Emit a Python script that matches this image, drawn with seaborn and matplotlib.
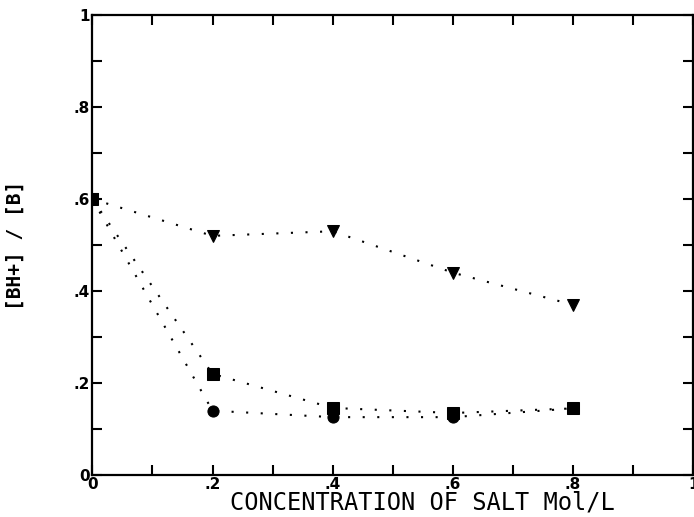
import matplotlib
matplotlib.use("Agg")
import matplotlib.pyplot as plt
import seaborn as sns
import pandas as pd
from matplotlib.ticker import MultipleLocator, FixedLocator

# salt concentration (mol/L)
conc = [0.0, 0.2, 0.4, 0.6, 0.8]

# [BH+]/[B] for the three salts
ratio_triangle = [0.60, 0.52, 0.53, 0.44, 0.37]
ratio_square = [0.60, 0.22, 0.146, 0.135, 0.145]
ratio_circle = [0.60, 0.14, 0.126, 0.126, 0.145]

tick_vals = [0, 0.2, 0.4, 0.6, 0.8, 1]
tick_text = ["0", ".2", ".4", ".6", ".8", "1"]

sns.set_style("ticks", {"axes.edgecolor": "black", "xtick.color": "black",
                        "ytick.color": "black", "text.color": "black",
                        "axes.labelcolor": "black"})
plt.rcParams["font.family"] = ["DejaVu Sans"]

fig = plt.figure(figsize=(6.94, 5.17), dpi=100)
ax = fig.add_axes([0.133, 0.081, 0.866, 0.89])

# circles first, triangles last so the triangle sits on top at x=0
series = [
    ("circ", ratio_circle, "o"),
    ("sq", ratio_square, "s"),
    ("tri", ratio_triangle, "v"),
]
for name, vals, mk in series:
    df = pd.DataFrame({"x": conc, "y": vals})
    sns.lineplot(data=df, x="x", y="y", ax=ax, color="black",
                 marker=mk, markersize=8, markeredgecolor="black",
                 linestyle=(0, (1, 6)), linewidth=1.5)

ax.set_xlim(0, 1)
ax.set_ylim(0, 1)

ax.xaxis.set_major_locator(FixedLocator(tick_vals))
ax.yaxis.set_major_locator(FixedLocator(tick_vals))
ax.set_xticklabels(tick_text)
ax.set_yticklabels(tick_text)
ax.xaxis.set_minor_locator(MultipleLocator(0.1))
ax.yaxis.set_minor_locator(MultipleLocator(0.1))

ax.tick_params(which="both", direction="in", top=True, right=True,
               length=7, width=1.5, labelsize=11, colors="black")
ax.tick_params(axis="x", pad=1)
ax.tick_params(axis="y", pad=2)
for lab in ax.get_xticklabels() + ax.get_yticklabels():
    lab.set_fontweight("bold")

for sp in ax.spines.values():
    sp.set_linewidth(1.6)
    sp.set_visible(True)
    sp.set_color("black")

ax.set_xlabel("CONCENTRATION OF SALT Mol/L", fontsize=17, labelpad=0,
              family=["DejaVu Sans Mono"])
ax.xaxis.set_label_coords(0.549, -0.033, transform=ax.transAxes)
ax.xaxis.label.set_verticalalignment("top")
ax.set_ylabel("[BH+] / [B]", fontsize=14, fontweight="bold",
              family=["DejaVu Sans Mono"])
ax.yaxis.set_label_coords(-0.112, 0.5)

fig.savefig("out.png", dpi=100)
